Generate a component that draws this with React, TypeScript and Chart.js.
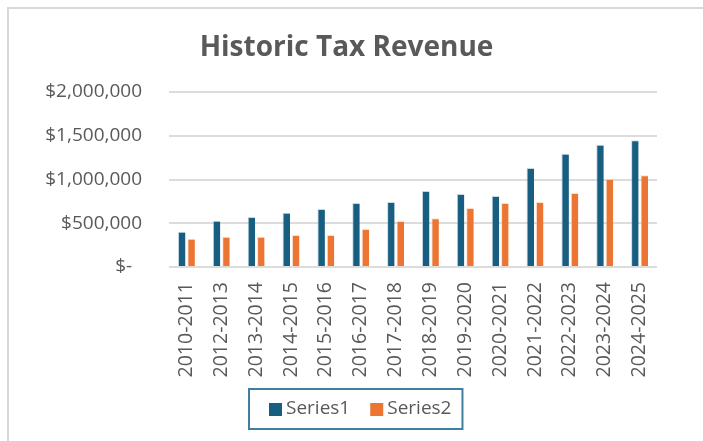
import React, { useEffect, useRef } from "react";
import { Chart, registerables } from "chart.js";

Chart.register(...registerables);

const title = "Historic Tax Revenue";
const categories = [
  "2010-2011", "2012-2013", "2013-2014", "2014-2015", "2015-2016", "2016-2017", "2017-2018",
  "2018-2019", "2019-2020", "2020-2021", "2021-2022", "2022-2023", "2023-2024", "2024-2025",
];
const seriesNames = ["Series1", "Series2"];
const series1 = [403000, 529000, 571000, 621000, 663000, 731000, 743000, 869000, 834000, 811000, 1131000, 1295000, 1398000, 1448000];
const series2 = [323000, 346000, 346000, 366000, 366000, 434000, 526000, 556000, 674000, 731000, 743000, 846000, 1006000, 1048000];
const yMin = 0;
const yMax = 2000000;
const yStep = 500000;

const COLOR1 = "#175e81";
const COLOR2 = "#ed7533";
const TEXT = "#595959";
const FONT = "'Open Sans', sans-serif";

const fmt = (v: number) => (v === 0 ? "$-  " : "$" + v.toLocaleString("en-US"));

const framePlugin = {
  id: "frame",
  beforeDraw(chart: any) {
    const ctx = chart.ctx;
    ctx.save();
    ctx.fillStyle = "#ffffff";
    ctx.fillRect(0, 0, chart.width, chart.height);
    ctx.strokeStyle = "#d9d9d9";
    ctx.lineWidth = 2;
    ctx.beginPath();
    ctx.moveTo(8, chart.height);
    ctx.lineTo(8, 8);
    ctx.lineTo(chart.width, 8);
    ctx.stroke();
    ctx.restore();
  },
};

const legendPlugin = {
  id: "boxLegend",
  afterDraw(chart: any) {
    const ctx = chart.ctx;
    ctx.save();
    ctx.font = `19px ${FONT}`;
    const sq = 13, gapText = 4, gapItem = 20, padL = 21, padR = 12, boxH = 42;
    const items = chart.data.datasets.map((ds: any) => ({
      label: ds.label,
      color: ds.backgroundColor,
      w: ctx.measureText(ds.label).width,
    }));
    const content = items.reduce((s: number, it: any, i: number) => s + sq + gapText + it.w + (i ? gapItem : 0), 0);
    const boxW = padL + content + padR;
    const cx = chart.width / 2 + 4;
    const left = Math.round(cx - boxW / 2);
    const top = chart.height - 53;
    ctx.strokeStyle = "#3f7fa0";
    ctx.lineWidth = 2;
    ctx.strokeRect(left + 1, top + 1, boxW - 2, boxH - 2);
    let x = left + padL;
    const cy = top + boxH / 2;
    ctx.textBaseline = "middle";
    ctx.textAlign = "left";
    items.forEach((it: any) => {
      ctx.fillStyle = it.color;
      ctx.fillRect(x, Math.round(cy - sq / 2), sq, sq);
      x += sq + gapText;
      ctx.fillStyle = TEXT;
      ctx.fillText(it.label, x, cy);
      x += it.w + gapItem;
    });
    ctx.restore();
  },
};

export default function App() {
  const ref = useRef<HTMLCanvasElement | null>(null);
  useEffect(() => {
    if (!ref.current) return;
    Chart.defaults.font.family = FONT;
    Chart.defaults.color = TEXT;
    const chart = new Chart(ref.current, {
      type: "bar",
      data: {
        labels: categories,
        datasets: [
          {
            label: seriesNames[0],
            data: series1,
            backgroundColor: COLOR1,
            borderColor: "rgba(160,190,210,0.6)",
            borderWidth: { top: 1, left: 1, right: 0, bottom: 0 },
            borderSkipped: "bottom",
            categoryPercentage: 0.54,
            barPercentage: 0.8,
          },
          {
            label: seriesNames[1],
            data: series2,
            backgroundColor: COLOR2,
            borderColor: "rgba(250,200,170,0.6)",
            borderWidth: { top: 1, left: 1, right: 0, bottom: 0 },
            borderSkipped: "bottom",
            categoryPercentage: 0.54,
            barPercentage: 0.8,
          },
        ],
      },
      options: {
        responsive: false,
        animation: false,
        layout: { padding: { left: 36, right: 46, top: 0, bottom: 54 } },
        plugins: {
          legend: { display: false },
          tooltip: { enabled: false },
          title: {
            display: true,
            text: title,
            color: TEXT,
            font: { family: FONT, size: 28, weight: "bold" },
            padding: { top: 31, bottom: 27.4 },
          },
        },
        scales: {
          x: {
            grid: { display: false, drawTicks: false },
            border: { display: false },
            ticks: {
              color: TEXT,
              font: { family: FONT, size: 19.5 },
              maxRotation: 90,
              minRotation: 90,
              autoSkip: false,
              padding: 15,
            },
            afterFit(scale: any) {
              scale.height = 120;
            },
          },
          y: {
            min: yMin,
            max: yMax,
            grid: { color: "#dcdcdc", lineWidth: 2, drawTicks: false },
            border: { display: false },
            ticks: {
              stepSize: yStep,
              color: TEXT,
              font: { family: FONT, size: 19 },
              padding: 27,
              callback: (v: any) => fmt(Number(v)),
            },
            afterFit(scale: any) {
              scale.width = 133;
            },
          },
        },
      },
      plugins: [framePlugin, legendPlugin],
    });
    return () => chart.destroy();
  }, []);
  return (
    <div style={{ position: "fixed", left: 0, top: 0, width: 703, height: 441 }}>
      <canvas ref={ref} width={703} height={441} style={{ width: 703, height: 441, display: "block" }} />
    </div>
  );
}
